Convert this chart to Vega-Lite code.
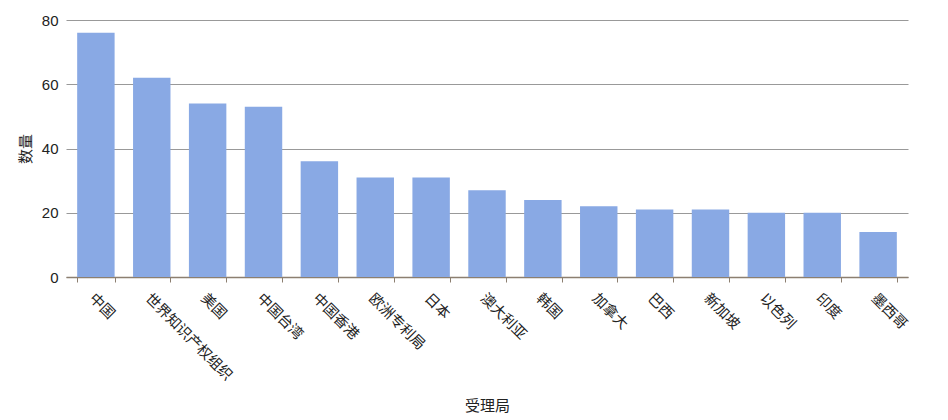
{
  "$schema": "https://vega.github.io/schema/vega-lite/v6.json",
  "autosize": "none",
  "width": 842,
  "height": 257,
  "padding": {"left": 66, "top": 20, "right": 40, "bottom": 143},
  "background": "white",
  "config": {
    "font": "Liberation Sans, Noto Sans CJK SC",
    "view": {"stroke": null}
  },
  "data": {
    "values": [
      {"office": "中国", "count": 76},
      {"office": "世界知识产权组织", "count": 62},
      {"office": "美国", "count": 54},
      {"office": "中国台湾", "count": 53},
      {"office": "中国香港", "count": 36},
      {"office": "欧洲专利局", "count": 31},
      {"office": "日本", "count": 31},
      {"office": "澳大利亚", "count": 27},
      {"office": "韩国", "count": 24},
      {"office": "加拿大", "count": 22},
      {"office": "巴西", "count": 21},
      {"office": "新加坡", "count": 21},
      {"office": "以色列", "count": 20},
      {"office": "印度", "count": 20},
      {"office": "墨西哥", "count": 14}
    ]
  },
  "mark": {"type": "bar", "color": "#89a9e4"},
  "encoding": {
    "x": {
      "field": "office",
      "type": "nominal",
      "sort": null,
      "scale": {"paddingInner": 0.33, "paddingOuter": 0.2},
      "axis": {
        "title": "受理局",
        "titleFont": "Noto Sans CJK SC",
        "titleFontSize": 15,
        "titleFontWeight": "normal",
        "titleColor": "#222",
        "titlePadding": 16,
        "labelAngle": 45,
        "labelFont": "Noto Sans CJK SC",
        "labelFontSize": 14.5,
        "labelColor": "#222",
        "labelPadding": 9,
        "tickBand": "extent",
        "tickColor": "#8c7f70",
        "tickSize": 5,
        "domainColor": "#8c7f70",
        "domainWidth": 1.5,
        "grid": false
      }
    },
    "y": {
      "field": "count",
      "type": "quantitative",
      "scale": {"domain": [0, 80]},
      "axis": {
        "title": "数量",
        "titleFont": "Noto Sans CJK SC",
        "titleFontSize": 15,
        "titleFontWeight": "normal",
        "titleColor": "#222",
        "titlePadding": 8,
        "values": [0, 20, 40, 60, 80],
        "labelFontSize": 15,
        "labelColor": "#222",
        "labelPadding": 8,
        "ticks": false,
        "domain": false,
        "grid": true,
        "gridColor": "#999",
        "gridWidth": 1
      }
    }
  }
}
